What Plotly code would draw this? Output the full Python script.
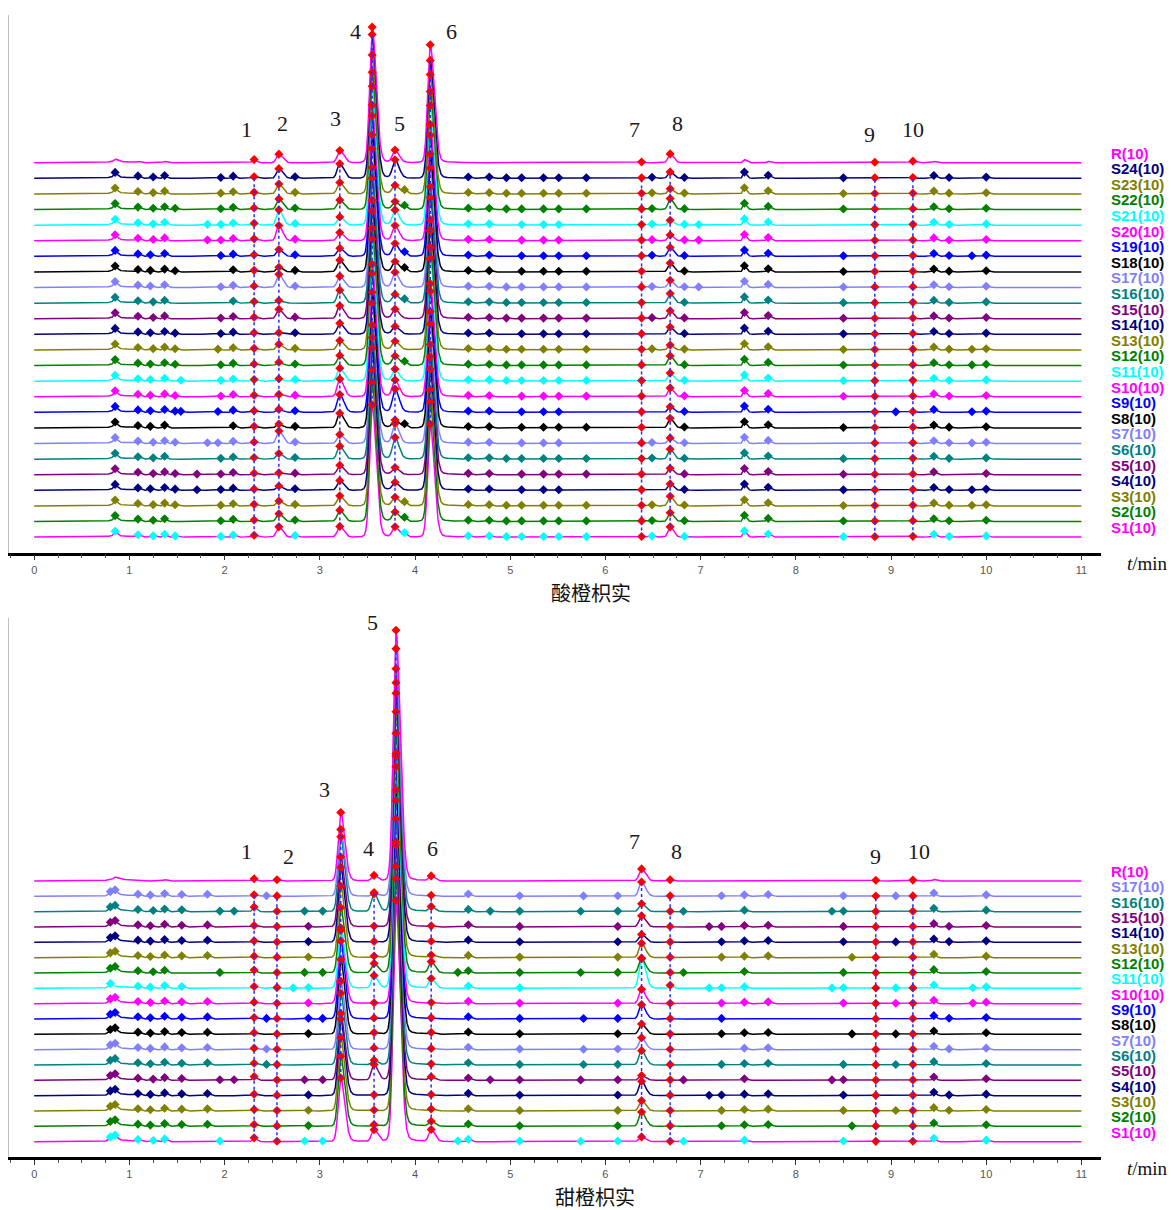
import numpy as np
import plotly.graph_objects as go

# ---------------- data ----------------
TIME_START, TIME_END, TIME_STEP = 0.0, 11.0, 0.0025
X_TICKS = list(range(0, 12))

PALETTE = {
    "magenta": "#FF00FF", "navy": "#000080", "olive": "#808000", "green": "#008000",
    "cyan": "#00FFFF", "blue": "#0000FF", "black": "#000000", "lightblue": "#8080FF",
    "teal": "#008080", "purple": "#800080", "red": "#FF0000", "dash": "#2030FF",
}

TOP_NAMES = [f"S{i}" for i in range(1, 25)] + ["R"]
BOT_NAMES = [f"S{i}" for i in range(1, 18)] + ["R"]
TOP_COLORS = ["magenta", "green", "olive", "navy", "purple", "teal", "lightblue", "black", "blue",
              "magenta", "cyan", "green", "olive", "navy", "purple", "teal", "lightblue", "black", "blue",
              "magenta", "cyan", "green", "olive", "navy", "magenta"]
BOT_COLORS = TOP_COLORS[:17] + ["magenta"]
MARKER_COLOR_OVERRIDE = {"S1": "cyan"}

# common peaks 1-10 (retention time, min)
TOP_PEAKS = [2.31, 2.57, 3.21, 3.55, 3.79, 4.16, 6.38, 6.68, 8.83, 9.23]
TOP_SIGMA = [0.018, 0.025, 0.026, 0.026, 0.026, 0.026, 0.018, 0.022, 0.018, 0.018]
TOP_TAIL = [0, 0, 0.04, 0.035, 0.04, 0.035, 0, 0.03, 0, 0]
BOT_PEAKS = [2.31, 2.55, 3.22, 3.57, 3.80, 4.17, 6.38, 6.68, 8.84, 9.23]
BOT_SIGMA = [0.018, 0.018, 0.026, 0.026, 0.028, 0.024, 0.026, 0.018, 0.018, 0.018]
BOT_TAIL = [0, 0, 0.04, 0.03, 0.035, 0.03, 0.04, 0, 0, 0]

# common-peak heights (trace-spacing units), rows S1..S24, R
TOP_HEIGHTS = [
    [0.12, 0.66, 0.66, 8.2, 0.60, 7.0, 0.04, 0.64, 0.03, 0.05],
    [0.10, 0.50, 0.70, 8.6, 0.55, 7.4, 0.04, 0.55, 0.03, 0.05],
    [0.10, 0.32, 0.62, 8.4, 0.50, 7.2, 0.04, 0.60, 0.03, 0.05],
    [0.08, 0.28, 0.60, 8.8, 0.45, 7.5, 0.04, 0.40, 0.03, 0.05],
    [0.10, 0.12, 0.58, 8.5, 0.40, 7.3, 0.04, 0.40, 0.03, 0.05],
    [0.10, 0.36, 0.80, 8.3, 1.30, 7.1, 0.04, 0.62, 0.03, 0.05],
    [0.10, 0.80, 0.55, 8.7, 1.20, 7.4, 0.04, 0.35, 0.03, 0.05],
    [0.10, 0.25, 0.90, 8.4, 0.45, 7.2, 0.04, 0.60, 0.03, 0.05],
    [0.10, 0.19, 1.10, 8.6, 1.40, 7.5, 0.04, 0.35, 0.03, 0.05],
    [0.10, 0.15, 1.10, 8.2, 1.00, 7.0, 0.04, 0.55, 0.03, 0.05],
    [0.10, 0.15, 0.80, 8.8, 0.70, 7.6, 0.04, 0.50, 0.03, 0.05],
    [0.10, 0.21, 0.62, 8.5, 0.55, 7.3, 0.04, 0.60, 0.03, 0.05],
    [0.10, 0.36, 0.58, 8.6, 0.50, 7.4, 0.04, 0.30, 0.03, 0.05],
    [0.10, 0.10, 0.68, 8.3, 0.45, 7.1, 0.04, 0.45, 0.03, 0.05],
    [0.10, 0.60, 0.80, 8.7, 0.55, 7.5, 0.04, 0.50, 0.03, 0.05],
    [0.10, 0.17, 0.80, 8.4, 0.50, 7.2, 0.04, 0.60, 0.03, 0.05],
    [0.10, 0.85, 0.70, 8.6, 0.90, 7.4, 0.04, 0.45, 0.03, 0.05],
    [0.10, 0.30, 0.73, 8.5, 0.60, 7.3, 0.04, 0.55, 0.03, 0.05],
    [0.10, 0.43, 0.50, 8.7, 0.75, 7.5, 0.04, 0.55, 0.03, 0.05],
    [0.12, 0.98, 0.50, 8.4, 0.90, 7.2, 0.04, 0.35, 0.03, 0.05],
    [0.12, 0.98, 0.50, 8.6, 0.90, 7.4, 0.04, 0.30, 0.03, 0.05],
    [0.10, 0.68, 0.58, 8.5, 0.45, 7.3, 0.04, 0.68, 0.03, 0.05],
    [0.10, 0.64, 0.70, 8.6, 0.50, 7.4, 0.04, 0.32, 0.03, 0.05],
    [0.10, 0.62, 0.90, 8.9, 1.10, 7.3, 0.04, 0.40, 0.03, 0.05],
    [0.20, 0.55, 0.75, 8.4, 0.75, 7.3, 0.05, 0.55, 0.03, 0.10],
]
# rows S1..S17, R
BOT_HEIGHTS = [
    [0.25, 0.03, 4.0, 0.75, 15.2, 0.75, 0.30, 0.03, 0.02, 0.03],
    [0.12, 0.03, 4.4, 0.10, 15.6, 0.30, 0.90, 0.03, 0.02, 0.03],
    [0.10, 0.03, 4.6, 0.05, 15.4, 0.10, 0.65, 0.03, 0.02, 0.03],
    [0.10, 0.03, 4.8, 0.05, 15.8, 0.05, 0.90, 0.03, 0.02, 0.03],
    [0.25, 0.03, 4.2, 1.00, 15.0, 0.20, 0.30, 0.03, 0.02, 0.03],
    [0.12, 0.03, 4.5, 0.30, 15.5, 0.05, 0.90, 0.03, 0.02, 0.03],
    [0.10, 0.03, 4.3, 0.10, 15.7, 0.05, 0.75, 0.03, 0.02, 0.03],
    [0.10, 0.03, 4.7, 0.10, 15.4, 0.10, 0.65, 0.03, 0.02, 0.03],
    [0.10, 0.03, 4.9, 0.05, 15.9, 0.05, 0.90, 0.03, 0.02, 0.03],
    [0.10, 0.03, 4.6, 0.05, 15.6, 0.05, 0.90, 0.03, 0.02, 0.03],
    [0.12, 0.05, 3.8, 0.80, 14.8, 0.60, 1.90, 0.20, 0.02, 0.03],
    [0.20, 0.03, 4.1, 0.60, 15.1, 0.70, 0.90, 0.03, 0.02, 0.03],
    [0.10, 0.03, 4.5, 0.10, 15.5, 0.15, 0.90, 0.03, 0.02, 0.03],
    [0.10, 0.03, 4.7, 0.05, 15.7, 0.05, 0.50, 0.03, 0.02, 0.03],
    [0.10, 0.03, 4.4, 0.05, 15.4, 0.05, 0.70, 0.03, 0.02, 0.03],
    [0.30, 0.03, 4.7, 1.20, 15.3, 0.30, 0.50, 0.03, 0.02, 0.03],
    [0.10, 0.03, 4.2, 0.15, 15.6, 0.05, 0.90, 0.03, 0.02, 0.03],
    [0.15, 0.08, 4.3, 0.35, 15.8, 0.30, 0.76, 0.08, 0.05, 0.06],
]

# minor (non-common) peak heights by retention time
TOP_MINOR_H = {0.85: 0.30, 1.09: 0.14, 1.22: 0.10, 1.25: 0.08, 1.37: 0.18, 1.48: 0.08, 1.54: 0.06,
               1.71: 0.04, 1.82: 0.05, 1.93: 0.05, 1.96: 0.05, 2.09: 0.14, 2.74: 0.10, 3.89: 0.22,
               4.56: 0.08, 4.78: 0.08, 4.96: 0.04, 5.12: 0.04, 5.35: 0.04, 5.51: 0.04, 5.80: 0.04,
               6.49: 0.07, 6.83: 0.05, 6.98: 0.04, 7.46: 0.40, 7.71: 0.20, 8.50: 0.03, 9.05: 0.03,
               9.45: 0.18, 9.61: 0.05, 9.85: 0.04, 10.0: 0.08}
BOT_MINOR_H = {0.80: 0.22, 0.85: 0.28, 1.09: 0.12, 1.22: 0.08, 1.25: 0.08, 1.37: 0.18, 1.55: 0.12,
               1.82: 0.14, 1.95: 0.04, 2.10: 0.04, 2.44: 0.04, 2.72: 0.03, 2.84: 0.04, 2.88: 0.05,
               3.03: 0.04, 4.45: 0.04, 4.56: 0.15, 4.79: 0.04, 5.10: 0.04, 5.74: 0.03, 5.77: 0.03,
               6.13: 0.04, 6.82: 0.03, 7.09: 0.03, 7.22: 0.04, 7.46: 0.10, 7.71: 0.12, 8.38: 0.03,
               8.50: 0.04, 8.59: 0.03, 9.05: 0.03, 9.45: 0.22, 9.61: 0.05, 9.86: 0.04, 10.0: 0.10}

TOP_MINOR = {
    "S1": [0.85, 1.09, 1.25, 1.37, 1.48, 1.96, 2.09, 2.74, 3.89, 4.56, 4.78, 4.96, 5.12, 5.35, 5.51, 5.80, 6.49, 6.83, 7.46, 7.71, 8.50, 9.45, 9.61, 10.0],
    "S2": [0.85, 1.09, 1.25, 1.37, 1.96, 2.09, 2.74, 3.89, 4.56, 4.78, 4.96, 5.12, 5.35, 5.51, 5.80, 6.49, 6.83, 7.46, 7.71, 8.50, 9.45, 9.61, 10.0],
    "S3": [0.85, 1.09, 1.25, 1.37, 1.48, 1.96, 2.09, 2.74, 3.89, 4.56, 4.78, 4.96, 5.12, 5.35, 5.51, 5.80, 6.49, 6.83, 7.46, 7.71, 8.50, 9.45, 9.61, 9.85, 10.0],
    "S4": [0.85, 1.09, 1.22, 1.37, 1.48, 1.71, 1.96, 2.09, 2.74, 4.56, 4.78, 5.12, 5.35, 5.51, 6.83, 7.46, 7.71, 8.50, 9.45, 9.61, 9.85, 10.0],
    "S5": [0.85, 1.09, 1.25, 1.37, 1.48, 1.71, 1.96, 2.09, 2.74, 4.56, 4.78, 5.12, 5.35, 5.51, 5.80, 6.83, 7.46, 7.71, 8.50, 9.45, 10.0],
    "S6": [0.85, 1.09, 1.25, 1.37, 1.96, 2.09, 2.74, 4.56, 4.78, 4.96, 5.12, 5.35, 5.51, 5.80, 6.49, 6.83, 7.46, 7.71, 8.50, 9.45, 9.61, 10.0],
    "S7": [0.85, 1.09, 1.25, 1.37, 1.48, 1.82, 1.93, 2.09, 2.74, 4.56, 4.78, 5.12, 5.35, 5.51, 6.49, 6.83, 7.46, 7.71, 9.45, 9.61, 9.85, 10.0],
    "S8": [0.85, 1.09, 1.22, 1.37, 2.09, 2.74, 3.89, 4.56, 4.78, 5.12, 5.35, 5.51, 5.80, 6.83, 7.46, 7.71, 8.50, 9.45, 9.61, 10.0],
    "S9": [0.85, 1.09, 1.22, 1.37, 1.48, 1.54, 1.93, 2.09, 2.74, 4.56, 4.78, 5.12, 5.35, 5.51, 6.83, 7.46, 7.71, 9.05, 9.45, 9.85, 10.0],
    "S10": [0.85, 1.09, 1.22, 1.37, 1.48, 1.96, 2.09, 2.74, 4.56, 4.78, 5.12, 5.35, 5.51, 5.80, 6.83, 7.46, 7.71, 8.50, 9.45, 9.61, 10.0],
    "S11": [0.85, 1.09, 1.22, 1.37, 1.54, 1.96, 2.09, 2.74, 4.56, 4.78, 4.96, 5.12, 5.35, 5.51, 5.80, 6.83, 7.46, 7.71, 8.50, 9.45, 9.61, 10.0],
    "S12": [0.85, 1.09, 1.22, 1.37, 1.48, 1.96, 2.09, 2.74, 3.89, 4.56, 4.78, 4.96, 5.12, 5.35, 5.51, 5.80, 6.83, 7.46, 7.71, 8.50, 9.45, 9.61, 9.85, 10.0],
    "S13": [0.85, 1.09, 1.25, 1.37, 1.48, 1.93, 2.09, 2.74, 4.56, 4.78, 4.96, 5.12, 5.35, 5.51, 5.80, 6.49, 6.83, 7.46, 7.71, 8.50, 9.45, 9.61, 9.85, 10.0],
    "S14": [0.85, 1.09, 1.22, 1.37, 1.48, 1.96, 2.09, 2.74, 4.56, 4.78, 5.12, 5.35, 5.51, 5.80, 6.83, 7.46, 7.71, 8.50, 9.45, 9.61, 10.0],
    "S15": [0.85, 1.09, 1.25, 1.37, 1.96, 2.09, 2.74, 4.56, 4.78, 4.96, 5.12, 5.35, 5.51, 5.80, 6.49, 6.83, 7.46, 7.71, 8.50, 9.45, 9.61, 10.0],
    "S16": [0.85, 1.09, 1.25, 1.37, 2.09, 3.89, 4.56, 4.78, 4.96, 5.12, 5.35, 5.51, 5.80, 6.83, 7.46, 7.71, 8.50, 9.45, 9.61, 10.0],
    "S17": [0.85, 1.09, 1.22, 1.37, 1.96, 2.09, 2.74, 4.56, 4.78, 4.96, 5.12, 5.35, 5.51, 5.80, 6.49, 6.83, 6.98, 7.46, 7.71, 8.50, 9.45, 9.61, 10.0],
    "S18": [0.85, 1.09, 1.22, 1.37, 1.48, 2.09, 2.74, 3.89, 4.56, 4.78, 5.12, 5.35, 5.51, 5.80, 6.83, 7.46, 7.71, 8.50, 9.45, 9.61, 10.0],
    "S19": [0.85, 1.09, 1.22, 1.37, 1.96, 2.09, 2.74, 3.89, 4.56, 4.78, 5.12, 5.35, 5.51, 5.80, 6.49, 6.83, 7.46, 7.71, 8.50, 9.45, 9.61, 9.85, 10.0],
    "S20": [0.85, 1.09, 1.25, 1.37, 1.82, 1.96, 2.09, 2.74, 4.56, 4.78, 5.12, 5.35, 5.51, 6.49, 6.83, 6.98, 7.46, 7.71, 9.45, 9.61, 10.0],
    "S21": [0.85, 1.09, 1.25, 1.37, 1.82, 1.96, 2.09, 2.74, 4.56, 4.78, 5.12, 5.35, 5.51, 6.49, 6.83, 6.98, 7.46, 7.71, 9.45, 9.61, 10.0],
    "S22": [0.85, 1.09, 1.25, 1.37, 1.48, 1.96, 2.09, 2.74, 3.89, 4.56, 4.78, 4.96, 5.12, 5.35, 5.51, 5.80, 6.49, 6.83, 7.46, 7.71, 8.50, 9.45, 9.61, 10.0],
    "S23": [0.85, 1.09, 1.25, 1.37, 1.96, 2.09, 2.74, 3.89, 4.56, 4.78, 4.96, 5.12, 5.35, 5.51, 5.80, 6.49, 6.83, 7.46, 7.71, 8.50, 9.45, 9.61, 10.0],
    "S24": [0.85, 1.09, 1.25, 1.37, 1.96, 2.09, 2.74, 4.56, 4.78, 4.96, 5.12, 5.35, 5.51, 5.80, 6.49, 6.83, 7.46, 7.71, 8.50, 9.45, 9.61, 10.0],
}
TOP_R_BUMPS = [0.85, 1.09, 1.37, 7.46, 7.71, 9.45]

BOT_MINOR = {
    "S1": [0.80, 0.85, 1.09, 1.25, 1.37, 1.95, 2.84, 3.03, 4.45, 4.56, 5.10, 5.74, 6.13, 6.82, 7.46, 8.50, 9.45, 10.0],
    "S2": [0.80, 0.85, 1.09, 1.22, 1.37, 1.55, 1.82, 2.88, 4.56, 5.10, 6.13, 7.22, 7.46, 7.71, 8.59, 9.45, 10.0],
    "S3": [0.80, 0.85, 1.09, 1.22, 1.37, 1.55, 1.82, 2.88, 4.56, 5.10, 6.13, 7.22, 7.46, 7.71, 8.50, 9.05, 9.45, 9.61, 10.0],
    "S4": [0.80, 0.85, 1.09, 1.22, 1.37, 1.55, 1.82, 2.88, 4.56, 5.10, 6.13, 7.09, 7.22, 7.46, 7.71, 8.50, 9.45, 9.61, 10.0],
    "S5": [0.80, 0.85, 1.09, 1.25, 1.37, 1.55, 1.95, 2.10, 2.84, 3.03, 4.56, 4.79, 5.10, 5.74, 6.13, 6.82, 7.46, 8.38, 8.50, 9.45, 10.0],
    "S6": [0.80, 0.85, 1.09, 1.22, 1.37, 1.55, 1.82, 2.44, 4.56, 5.10, 5.77, 6.13, 7.22, 7.46, 7.71, 8.50, 9.05, 9.45, 10.0],
    "S7": [0.80, 0.85, 1.09, 1.22, 1.37, 1.55, 1.82, 2.44, 4.56, 5.10, 5.77, 6.13, 7.46, 7.71, 9.45, 9.61, 10.0],
    "S8": [0.80, 0.85, 1.09, 1.22, 1.37, 1.55, 1.82, 2.88, 4.56, 5.10, 6.13, 7.22, 7.46, 7.71, 8.59, 9.05, 9.45, 10.0],
    "S9": [0.80, 0.85, 1.09, 1.22, 1.37, 1.55, 1.82, 2.44, 2.88, 3.03, 4.56, 5.10, 5.77, 6.13, 7.22, 9.45, 9.61, 10.0],
    "S10": [0.80, 0.85, 1.09, 1.22, 1.37, 1.55, 1.82, 2.88, 4.56, 5.10, 6.13, 7.22, 7.46, 7.71, 8.50, 9.05, 9.45, 9.86, 10.0],
    "S11": [0.80, 1.09, 1.22, 1.37, 1.55, 2.72, 2.88, 4.56, 5.10, 7.09, 7.22, 7.46, 8.38, 8.50, 9.05, 9.45, 9.86, 10.0],
    "S12": [0.80, 0.85, 1.09, 1.25, 1.37, 1.95, 2.84, 3.03, 4.45, 4.56, 5.10, 5.74, 6.13, 6.82, 7.46, 8.50, 9.45, 10.0],
    "S13": [0.80, 0.85, 1.09, 1.22, 1.37, 1.55, 1.82, 2.88, 4.56, 5.10, 6.13, 7.22, 7.46, 7.71, 8.59, 9.45, 10.0],
    "S14": [0.80, 0.85, 1.09, 1.22, 1.37, 1.55, 1.82, 2.88, 4.56, 5.10, 6.13, 7.22, 7.46, 7.71, 8.50, 9.05, 9.45, 9.61, 10.0],
    "S15": [0.80, 0.85, 1.09, 1.22, 1.37, 1.55, 1.82, 2.88, 4.56, 5.10, 6.13, 7.09, 7.22, 7.46, 7.71, 8.50, 9.45, 9.61, 10.0],
    "S16": [0.80, 0.85, 1.09, 1.25, 1.37, 1.55, 1.95, 2.10, 2.84, 3.03, 4.56, 4.79, 5.10, 5.74, 6.13, 6.82, 7.46, 8.38, 8.50, 9.45, 10.0],
    "S17": [0.80, 0.85, 1.09, 1.22, 1.37, 1.55, 1.82, 2.44, 4.56, 5.10, 5.77, 6.13, 7.22, 7.46, 7.71, 8.50, 9.05, 9.45, 10.0],
}
BOT_R_BUMPS = [0.85, 1.37, 9.45]

# broad baseline hump near the solvent front: centre, sigma, height
TOP_HUMP = (0.86, 0.08, 0.08)
BOT_HUMP = (0.86, 0.08, 0.12)
MINOR_SIGMA = 0.015

# peak number labels (data coordinates)
LABELS = ["1", "2", "3", "4", "5", "6", "7", "8", "9", "10"]
TOP_LABEL_X = [2.235, 2.606, 3.167, 3.373, 3.832, 4.385, 6.307, 6.753, 8.777, 9.236]
TOP_LABEL_Y = [27.1, 27.5, 27.85, 33.4, 27.5, 33.4, 27.1, 27.5, 26.8, 27.1]
BOT_LABEL_X = [2.230, 2.669, 3.048, 3.515, 3.555, 4.187, 6.307, 6.745, 8.836, 9.291]
BOT_LABEL_Y = [19.9, 19.6, 24.0, 20.1, 34.85, 20.1, 20.6, 19.9, 19.6, 19.9]

TOP_TITLE = "酸橙枳实"
BOT_TITLE = "甜橙枳实"

# ---------------- model ----------------
t = np.arange(TIME_START, TIME_END + TIME_STEP / 2, TIME_STEP)


def peak_sum(tt, centers, heights, sigmas, tails):
    tt = np.asarray(tt, dtype=float)
    y = np.zeros_like(tt)
    for c, h, s, tf in zip(centers, heights, sigmas, tails):
        d = tt - c
        left = d < 0
        y += h * np.where(left, np.exp(-0.5 * (d / s) ** 2), np.exp(-0.5 * (d / (1.6 * s)) ** 2))
        if tf:
            y += h * tf * np.where(left, np.exp(-0.5 * (d / (2 * s)) ** 2), np.exp(-np.clip(d, 0, None) / 0.12))
    return y


def panel(names, colors, peaks, psig, ptail, heights, minor, minor_h, r_bumps, hump, xa, ya):
    traces_line, traces_minor, red_x, red_y = [], [], [], []
    dash_lo, dash_hi = {}, {}
    for i, name in enumerate(names):
        off = i + 1
        if name == "R":
            mt = list(r_bumps)
            mh = [0.5 * minor_h[m] for m in mt]
        else:
            mt = list(minor[name])
            mh = [minor_h[m] for m in mt]
        cen = list(peaks) + mt + [hump[0]]
        hh = list(heights[i]) + mh + [hump[2]]
        ss = list(psig) + [MINOR_SIGMA] * len(mt) + [hump[1]]
        tl = list(ptail) + [0] * len(mt) + [0]
        y = off + peak_sum(t, cen, hh, ss, tl)
        col = PALETTE[colors[i]]
        traces_line.append(go.Scatter(x=t, y=y, mode="lines", line=dict(color=col, width=1.5),
                                      xaxis=xa, yaxis=ya, hoverinfo="skip"))
        if name != "R":
            my = off + peak_sum(mt, cen, hh, ss, tl)
            mcol = PALETTE[MARKER_COLOR_OVERRIDE.get(name, colors[i])]
            traces_minor.append(go.Scatter(x=mt, y=my, mode="markers",
                                           marker=dict(symbol="diamond", size=7, color=mcol),
                                           xaxis=xa, yaxis=ya, hoverinfo="skip"))
        py = off + peak_sum(peaks, cen, hh, ss, tl)
        red_x += list(peaks)
        red_y += list(py)
        if name != "R":
            for k, v in enumerate(py):
                dash_lo[k] = min(dash_lo.get(k, 1e9), v)
                dash_hi[k] = max(dash_hi.get(k, -1e9), v)
    dx, dy = [], []
    for k, c in enumerate(peaks):
        dx += [c, c, None]
        dy += [dash_lo[k], dash_hi[k], None]
    red = go.Scatter(x=red_x, y=red_y, mode="markers",
                     marker=dict(symbol="diamond", size=7, color=PALETTE["red"]),
                     xaxis=xa, yaxis=ya, hoverinfo="skip")
    dash = go.Scatter(x=dx, y=dy, mode="lines",
                      line=dict(color=PALETTE["dash"], width=1.5, dash="3px,3px"),
                      xaxis=xa, yaxis=ya, hoverinfo="skip")
    return traces_line + traces_minor + [red, dash]


fig = go.Figure()
for tr in panel(TOP_NAMES, TOP_COLORS, TOP_PEAKS, TOP_SIGMA, TOP_TAIL, TOP_HEIGHTS,
                TOP_MINOR, TOP_MINOR_H, TOP_R_BUMPS, TOP_HUMP, "x", "y"):
    fig.add_trace(tr)
for tr in panel(BOT_NAMES, BOT_COLORS, BOT_PEAKS, BOT_SIGMA, BOT_TAIL, BOT_HEIGHTS,
                BOT_MINOR, BOT_MINOR_H, BOT_R_BUMPS, BOT_HUMP, "x2", "y2"):
    fig.add_trace(tr)

annotations = []
label_font = dict(family="Liberation Sans, Arial, sans-serif", size=15, weight="bold")
LABEL_PAPER_X = 1.0073
for names, colors, yr in [(TOP_NAMES, TOP_COLORS, "y"), (BOT_NAMES, BOT_COLORS, "y2")]:
    for i, name in enumerate(names):
        annotations.append(dict(x=LABEL_PAPER_X, y=i + 1 + 0.62, xref="paper", yref=yr,
                                text=f"{name}(10)", showarrow=False, xanchor="left",
                                yanchor="middle",
                                font=dict(color=PALETTE[colors[i]], **label_font)))
num_font = dict(family="Liberation Serif, Times New Roman, serif", size=22, color="#1a1a1a")
for lx, ly, xr, yr in [(TOP_LABEL_X, TOP_LABEL_Y, "x", "y"), (BOT_LABEL_X, BOT_LABEL_Y, "x2", "y2")]:
    for lab, xv, yv in zip(LABELS, lx, ly):
        annotations.append(dict(x=xv, y=yv, xref=xr, yref=yr, text=lab, showarrow=False,
                                xanchor="center", yanchor="middle", font=num_font))
title_font = dict(family="Noto Sans CJK SC, sans-serif", size=20, color="#111111")
annotations.append(dict(x=0.533, y=0.5107, xref="paper", yref="paper", text=TOP_TITLE,
                        showarrow=False, xanchor="center", yanchor="middle", font=title_font))
annotations.append(dict(x=0.5366, y=0.0112, xref="paper", yref="paper", text=BOT_TITLE,
                        showarrow=False, xanchor="center", yanchor="middle", font=title_font))
unit_font = dict(family="Liberation Serif, Times New Roman, serif", size=19, color="#111111")
for yy in (0.5347, 0.0347):
    annotations.append(dict(x=1.043, y=yy, xref="paper", yref="paper", text="<i>t</i>/min",
                            showarrow=False, xanchor="center", yanchor="middle", font=unit_font))

x_common = dict(range=[-0.2647, 11.2059], tickmode="array", tickvals=X_TICKS,
                ticktext=[str(v) for v in X_TICKS], ticks="outside", ticklen=5, tickwidth=1,
                tickcolor="#333333", showline=True, linecolor="#000000", linewidth=2.5,
                showgrid=False, zeroline=False,
                tickfont=dict(family="Liberation Sans, Arial, sans-serif", size=11, color="#555555"),
                minor=dict(dtick=0.25, tick0=0, ticks="outside", ticklen=3, tickcolor="#555555",
                           showgrid=False))
y_common = dict(showticklabels=False, showgrid=False, zeroline=False, ticks="",
                showline=True, linecolor="#c0c0c0", linewidth=1)

fig.update_layout(
    width=1171, height=1210, margin=dict(l=9, r=70, t=0, b=0),
    paper_bgcolor="white", plot_bgcolor="white", showlegend=False,
    xaxis=dict(domain=[0, 1], anchor="y", **x_common),
    yaxis=dict(domain=[0.5432, 0.9876], anchor="x", range=[0, 34.47], **y_common),
    xaxis2=dict(domain=[0, 1], anchor="y2", **x_common),
    yaxis2=dict(domain=[0.0438, 0.4893], anchor="x2", range=[0, 35.16], **y_common),
    annotations=annotations,
)

fig.write_html(
    "out.html",
    config={"displayModeBar": False},
    post_script="document.body.style.margin='0';document.body.style.overflow='hidden';",
)
